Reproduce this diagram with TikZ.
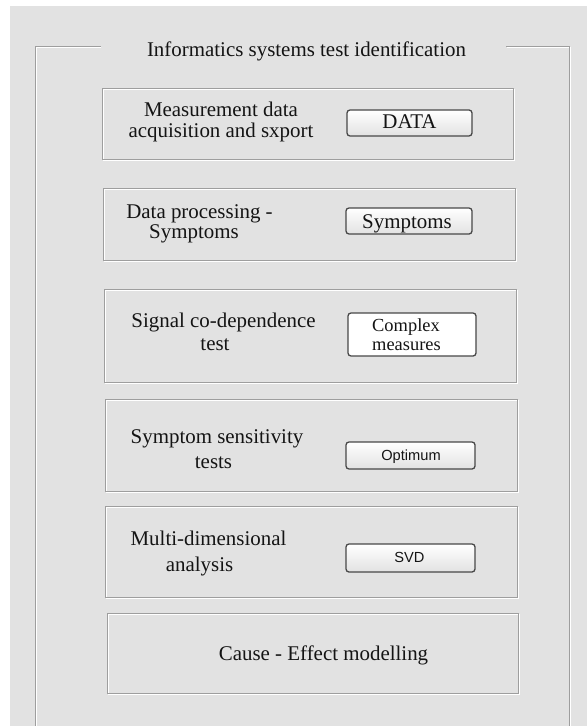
\documentclass[tikz,border=0pt]{standalone}
\usepackage{fontspec}
\setmainfont{Liberation Serif}
\newfontfamily\btnsans{Liberation Sans}
\definecolor{panelbg}{RGB}{226,226,226}
\definecolor{etchdark}{RGB}{158,158,158}
\definecolor{btnborder}{RGB}{72,72,72}
\definecolor{btnlow}{RGB}{226,226,226}
\definecolor{inkcol}{RGB}{20,20,20}
\begin{document}
\begin{tikzpicture}[x=1bp,y=-1bp,
  etchD/.style={draw=etchdark,line width=1.1bp},
  etchL/.style={draw=white,line width=1.1bp},
  lbl/.style={anchor=base,inner sep=0pt,text=inkcol,align=center},
  btn/.style={draw=btnborder,line width=1.3bp,rounded corners=3bp,
              top color=white,bottom color=btnlow,inner sep=0pt},
  btnserif/.style={anchor=base,inner sep=0pt,text=inkcol,font=\fontsize{21}{22}\selectfont},
  btnsf/.style={anchor=base,inner sep=0pt,text=inkcol,font=\btnsans\fontsize{14.7}{17}\selectfont}]
\useasboundingbox (0,0) rectangle (587,726);
\fill[white] (0,0) rectangle (587,726);
\fill[panelbg] (10,6) rectangle (587,726);

% outer etched group frame
\draw[etchL] (36.5,726) -- (36.5,47.5) -- (101,47.5);
\draw[etchL] (507,47.5) -- (570.5,47.5) -- (570.5,726);
\draw[etchD] (35.5,726) -- (35.5,46.5) -- (101,46.5);
\draw[etchD] (506,46.5) -- (569.5,46.5) -- (569.5,726);
\node[lbl,font=\fontsize{21}{22}\selectfont] (title) at (306.5,57) {Informatics systems test identification};

% etched panels
\foreach \xa/\ya/\xb/\yb in {102/88/513/159, 103/188/515/260, 104/289/516/382,
                             105/399/517/491, 105/506/517/597, 107/613/518/693}{
  \draw[etchL] (\xa+1.5,\ya+1.5) rectangle (\xb+1.5,\yb+1.5);
  \draw[etchD] (\xa+0.5,\ya+0.5) rectangle (\xb+0.5,\yb+0.5);
}

% panel labels (anchor base = baseline of the last line)
\node[lbl,font=\fontsize{21}{22}\selectfont] (l1) at (221,138) {Measurement data\\acquisition and sxport};
\node[lbl,font=\fontsize{21}{18}\selectfont] (l2) at (199.5,238) {Data processing -\\Symptoms\hspace*{11bp}};
\node[lbl,font=\fontsize{21}{23}\selectfont] (l3) at (223.5,350) {Signal co-dependence\\test\hspace*{17bp}};
\node[lbl,font=\fontsize{21}{25}\selectfont] (l4) at (217,468) {Symptom sensitivity\\tests\hspace*{7bp}};
\node[lbl,font=\fontsize{21}{26}\selectfont] (l5) at (208.5,571) {Multi-dimensional\\analysis\hspace*{18bp}};
\node[lbl,font=\fontsize{21}{22}\selectfont] (l6) at (323.5,660) {Cause - Effect modelling};

% buttons
\node[btn,minimum width=125bp,minimum height=26bp] (bData) at (409.5,123) {};
\node[btnserif] (tData) at (409.5,129) {DATA};
\node[btn,minimum width=126bp,minimum height=26bp] (bSym) at (409,221) {};
\node[btnserif] (tSym) at (407,228) {Symptoms};
\node[btn,minimum width=128bp,minimum height=43bp,top color=white,bottom color=white] (bCx) at (412,334.5) {};
\node[anchor=base west,inner sep=0pt,text=inkcol,align=left,font=\fontsize{18.5}{18.5}\selectfont] (tCx) at (372,350) {Complex\\measures};
\node[btn,minimum width=129bp,minimum height=27bp] (bOpt) at (410.5,455.5) {};
\node[btnsf] (tOpt) at (411,460) {Optimum};
\node[btn,minimum width=129bp,minimum height=28bp] (bSvd) at (410.5,558) {};
\node[btnsf] (tSvd) at (409.5,562.5) {SVD};
\end{tikzpicture}
\end{document}
